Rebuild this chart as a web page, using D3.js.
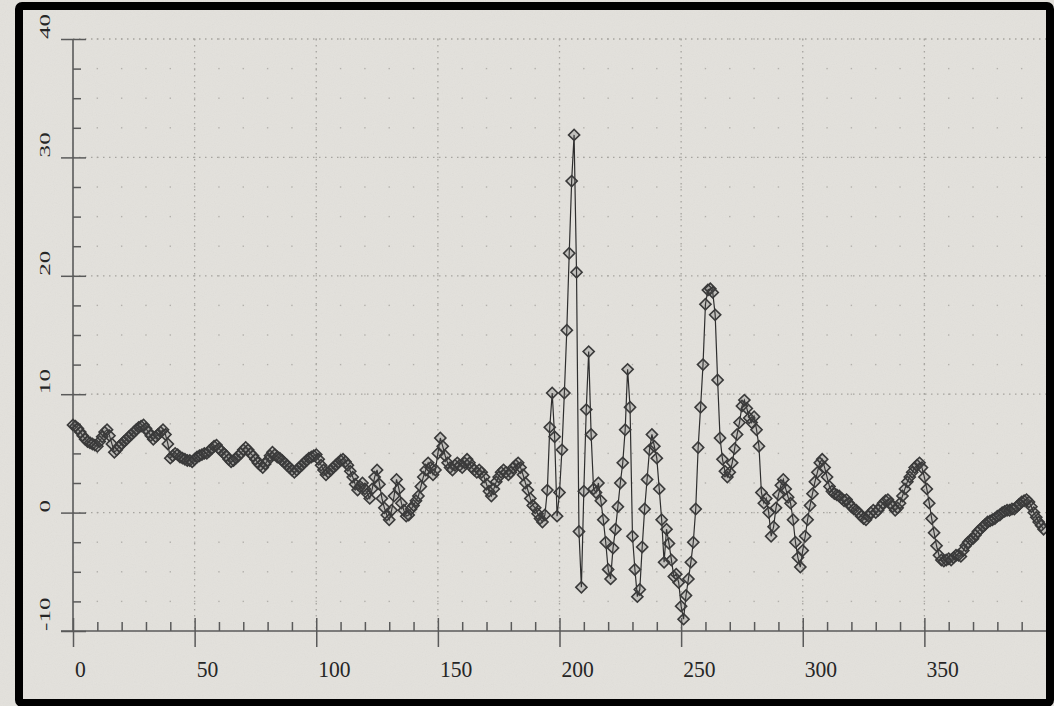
<!DOCTYPE html>
<html>
<head>
<meta charset="utf-8">
<script src="https://cdn.jsdelivr.net/npm/d3@7"></script>
<style>
  html, body { margin: 0; padding: 0; background: #e2e0db; }
  svg { display: block; }
</style>
</head>
<body>
<svg id="chart" width="1054" height="706"></svg>
<script>

// axis ticks
const xTicks = [0, 50, 100, 150, 200, 250, 300, 350];
const yTicks = [-10, 0, 10, 20, 30, 40];

// series, one value per x step (x = 0 .. 399)
const yValues = [
  7.4, 7.3, 7.1, 6.8, 6.5, 6.2, 6.0, 5.9, 5.8, 5.7,
  5.6, 6.0, 6.4, 6.8, 7.0, 6.5, 5.8, 5.1, 5.3, 5.6,
  5.8, 6.0, 6.2, 6.4, 6.6, 6.8, 7.0, 7.2, 7.3, 7.4,
  7.1, 6.8, 6.5, 6.2, 6.4, 6.6, 6.8, 7.0, 6.6, 5.8,
  4.6, 4.8, 5.0, 4.9, 4.7, 4.6, 4.5, 4.4, 4.4, 4.3,
  4.5, 4.7, 4.8, 4.9, 5.0, 5.0, 5.2, 5.4, 5.6, 5.7,
  5.4, 5.2, 5.0, 4.8, 4.5, 4.3, 4.4, 4.6, 4.8, 5.0,
  5.3, 5.5, 5.3, 5.0, 4.8, 4.5, 4.2, 4.0, 3.8, 4.1,
  4.4, 4.8, 5.1, 4.9, 4.7, 4.6, 4.4, 4.2, 4.0, 3.8,
  3.6, 3.4, 3.6, 3.8, 4.0, 4.2, 4.4, 4.6, 4.7, 4.8,
  4.9, 4.5, 4.0, 3.6, 3.2, 3.4, 3.6, 3.8, 4.0, 4.2,
  4.4, 4.5, 4.3, 4.0, 3.5, 3.0, 2.4, 1.9, 2.2, 2.5,
  2.0, 1.6, 1.2, 2.0, 3.0, 3.6, 2.4, 1.2, 0.4, -0.2,
  -0.6, 0.2, 1.4, 2.8, 2.0, 0.8, 0.2, -0.3, -0.2, 0.3,
  0.6, 1.0, 1.4, 2.2, 3.0, 3.6, 4.2, 3.8, 3.2, 3.6,
  5.0, 6.3, 5.6, 4.8, 4.2, 3.8, 3.6, 4.0, 4.2, 4.0,
  3.8, 4.2, 4.5, 4.2, 3.8, 3.6, 3.4, 3.6, 3.4, 3.0,
  2.4, 1.8, 1.4, 2.0, 2.6, 3.0, 3.4, 3.6, 3.4, 3.2,
  3.4, 3.8, 4.0, 4.2, 3.8, 3.2, 2.5, 1.9, 1.2, 0.6,
  0.4, -0.1, -0.5, -0.8, -0.2, 1.9, 7.2, 10.1, 6.4, -0.3,
  1.7, 5.3, 10.1, 15.4, 21.9, 28.0, 31.9, 20.3, -1.6, -6.3,
  1.8, 8.7, 13.6, 6.6, 2.0, 1.7, 2.5, 1.0, -0.6, -2.5,
  -4.8, -5.6, -3.0, -1.4, 0.5, 2.5, 4.2, 7.0, 12.1, 8.9,
  -2.0, -4.8, -7.1, -6.5, -2.9, 0.3, 2.8, 5.3, 6.6, 5.6,
  4.6, 2.0, -0.6, -4.2, -1.4, -2.6, -4.0, -5.4, -5.2, -5.9,
  -7.9, -9.0, -7.0, -5.6, -4.2, -2.5, 0.3, 5.5, 8.9, 12.5,
  17.6, 18.8, 18.9, 18.6, 16.7, 11.2, 6.3, 4.5, 3.5, 3.0,
  3.4, 4.2, 5.4, 6.6, 7.6, 9.0, 9.5, 8.8, 8.0, 7.6,
  8.1, 7.0, 5.6, 1.7, 0.8, 1.2, 0.0, -2.0, -1.2, 0.4,
  1.5, 2.3, 2.8, 2.0, 1.3, 0.8, -0.6, -2.5, -3.8, -4.6,
  -3.2, -2.0, -0.6, 0.6, 1.6, 2.6, 3.4, 4.2, 4.5, 3.8,
  3.0, 2.2, 1.8, 1.6, 1.5, 1.4, 1.2, 1.0, 1.1, 0.8,
  0.5, 0.3, 0.2, 0.0, -0.3, -0.5, -0.6, -0.3, 0.0, 0.2,
  0.0, 0.2, 0.5, 0.8, 1.0, 1.1, 0.8, 0.5, 0.2, 0.4,
  0.8, 1.4, 2.0, 2.6, 3.0, 3.4, 3.8, 4.0, 4.2, 3.8,
  3.0, 2.0, 0.8, -0.5, -1.7, -2.8, -3.6, -4.0, -4.1, -4.0,
  -3.9, -4.0, -3.8, -3.6, -3.6, -3.7, -3.2, -2.8, -2.5, -2.3,
  -2.2, -1.9, -1.6, -1.4, -1.2, -1.0, -0.8, -0.7, -0.6, -0.5,
  -0.3, -0.2, 0.0, 0.1, 0.2, 0.2, 0.3, 0.3, 0.5, 0.7,
  0.9, 1.0, 1.1, 0.9, 0.5, 0.0, -0.4, -0.8, -1.1, -1.4
];

const svg = d3.select('#chart');
const W = 1054, H = 706;

// paper background
const defs = svg.append('defs');
const grain = defs.append('filter').attr('id', 'grain');
grain.append('feTurbulence').attr('type', 'fractalNoise').attr('baseFrequency', 0.9).attr('numOctaves', 2).attr('seed', 3);
grain.append('feColorMatrix').attr('type', 'saturate').attr('values', 0);

svg.append('rect').attr('width', W).attr('height', H).attr('fill', '#e3e1dc');
svg.append('rect').attr('width', W).attr('height', H)
  .attr('filter', 'url(#grain)').attr('opacity', 0.07);

// scales
const x = d3.scaleLinear().domain([0, 400]).range([73, 1046]);
const y = d3.scaleLinear().domain([-10, 40]).range([631, 39]);

const xMinor = d3.range(0, 400, 10).filter(v => v % 50 !== 0);
const yMinor = d3.range(-10, 40, 2.5).filter(v => v % 10 !== 0);

// dot grid
const grid = svg.append('g').attr('fill', '#b2b0ab');
d3.range(10, 400, 10).forEach(gx => {
  d3.range(-7.5, 40.1, 2.5).forEach(gy => {
    grid.append('rect')
      .attr('x', x(gx) - 0.7).attr('y', y(gy) - 0.7)
      .attr('width', 1.4).attr('height', 1.4);
  });
});

// dotted major grid lines
const gl = svg.append('g')
  .attr('stroke', '#a6a49f').attr('stroke-width', 1.3).attr('stroke-dasharray', '1.5,4.5');
yTicks.filter(t => t > -10).forEach(t => {
  gl.append('line').attr('x1', x(0)).attr('x2', x(400)).attr('y1', y(t)).attr('y2', y(t));
});
xTicks.filter(t => t > 0).forEach(t => {
  gl.append('line').attr('x1', x(t)).attr('x2', x(t)).attr('y1', y(40)).attr('y2', y(-10));
});

// axes
const axisColor = '#5a5a5a';

const xMajor = svg.append('g').attr('transform', `translate(0,${y(-10) - 13})`)
  .call(d3.axisBottom(x).tickValues(xTicks).tickSize(29).tickFormat(''));
const xMin = svg.append('g').attr('transform', `translate(0,${y(-10) - 9})`)
  .call(d3.axisBottom(x).tickValues(xMinor).tickSize(9).tickFormat(''));
const yMajor = svg.append('g').attr('transform', `translate(${x(0) + 13},0)`)
  .call(d3.axisLeft(y).tickValues(yTicks).tickSize(25).tickFormat(''));
const yMin = svg.append('g').attr('transform', `translate(${x(0) + 8},0)`)
  .call(d3.axisLeft(y).tickValues(yMinor).tickSize(8).tickFormat(''));

[xMajor, xMin, yMajor, yMin].forEach(g => {
  g.select('.domain').remove();
  g.selectAll('line').attr('stroke', axisColor).attr('stroke-width', 1.5);
});

svg.append('line').attr('x1', 61).attr('x2', x(400)).attr('y1', y(-10)).attr('y2', y(-10))
  .attr('stroke', axisColor).attr('stroke-width', 1.6);
svg.append('line').attr('x1', x(0)).attr('x2', x(0)).attr('y1', y(40)).attr('y2', y(-10))
  .attr('stroke', axisColor).attr('stroke-width', 1.6);

// tick labels
svg.append('g').selectAll('text').data(xTicks).enter().append('text')
  .attr('transform', d => `translate(${x(d) + 2},677) scale(0.9,1)`)
  .attr('text-anchor', 'start')
  .attr('font-family', 'Liberation Serif, serif')
  .attr('font-size', '24px')
  .attr('fill', '#262626')
  .text(d => d);

svg.append('g').selectAll('text').data(yTicks).enter().append('text')
  .attr('transform', d => `translate(50,${y(d)}) rotate(-90) scale(1.05,0.62)`)
  .attr('text-anchor', 'start')
  .attr('font-family', 'Liberation Serif, serif')
  .attr('font-size', '24px')
  .attr('fill', '#262626')
  .text(d => d);

// series
const pts = yValues.map((v, i) => ({ x: i, y: v }));

svg.append('path').datum(pts)
  .attr('fill', 'none')
  .attr('stroke', '#2e2e2e')
  .attr('stroke-width', 1.2)
  .attr('d', d3.line().x(d => x(d.x)).y(d => y(d.y)));

const marker = d3.symbol().type(d3.symbolSquare).size(62);
svg.append('g').selectAll('path').data(pts).enter().append('path')
  .attr('d', marker)
  .attr('transform', d => `translate(${x(d.x)},${y(d.y)}) rotate(45)`)
  .attr('fill', 'rgba(80,80,80,0.22)')
  .attr('stroke', '#3a3a3a')
  .attr('stroke-width', 1.6);

// black frame
svg.append('rect')
  .attr('x', 19).attr('y', 6).attr('width', 1031).attr('height', 697)
  .attr('rx', 3)
  .attr('fill', 'none').attr('stroke', '#000').attr('stroke-width', 8);

</script>
</body>
</html>
